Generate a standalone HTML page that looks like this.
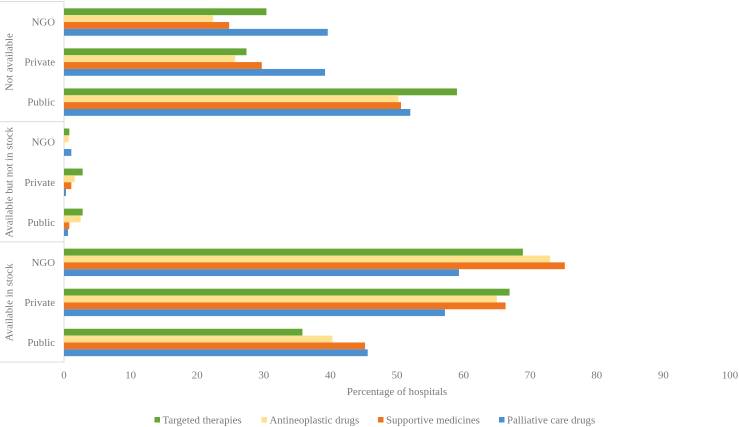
<!DOCTYPE html>
<html>
<head>
<meta charset="utf-8">
<style>
html,body{margin:0;padding:0;background:#fff;}
svg{display:block;filter:blur(0.3px);}
text{font-family:"Liberation Serif",serif;fill:#787878;font-size:10.8px;}
</style>
</head>
<body>
<svg id="chart" width="739" height="427" viewBox="0 0 739 427" xmlns="http://www.w3.org/2000/svg"></svg>
<script>
const statuses = ["Not available", "Available but not in stock", "Available in stock"];
const sectors = ["NGO", "Private", "Public"];
const seriesNames = ["Targeted therapies", "Antineoplastic drugs", "Supportive medicines", "Palliative care drugs"];
const seriesColors = ["#64a535", "#ffe08e", "#ee7420", "#4c90d0"];
const targetedTherapies = [30.4, 27.4, 59.0, 0.8, 2.8, 2.8, 68.9, 66.9, 35.8];
const antineoplasticDrugs = [22.4, 25.7, 50.2, 0.7, 1.6, 2.5, 73.0, 65.0, 40.3];
const supportiveMedicines = [24.8, 29.7, 50.6, 0, 1.1, 0.8, 75.2, 66.3, 45.2];
const palliativeCareDrugs = [39.6, 39.2, 52.0, 1.1, 0.3, 0.6, 59.3, 57.2, 45.6];
const xTicks = [0, 10, 20, 30, 40, 50, 60, 70, 80, 90, 100];
const xTitle = "Percentage of hospitals";

const NS = "http://www.w3.org/2000/svg";
const svg = document.getElementById("chart");
const allSeries = [targetedTherapies, antineoplasticDrugs, supportiveMedicines, palliativeCareDrugs];
const plotLeft = 64, plotRight = 730, plotTop = 2, plotBottom = 362.5;
const groupCount = statuses.length * sectors.length;
const groupStep = (plotBottom - plotTop) / groupCount;
const barHeight = 6.85;

function xScale(v) { return plotLeft + (plotRight - plotLeft) * v / 100; }
function groupCenter(i) { return plotTop + groupStep * (i + 0.5); }
function make(tag, attrs, txt) {
  const el = document.createElementNS(NS, tag);
  for (const k in attrs) el.setAttribute(k, attrs[k]);
  if (txt !== undefined) el.textContent = txt;
  svg.appendChild(el);
  return el;
}

// axis lines and multi-level separators
const axisLine = make("line", {x1: plotLeft, x2: plotLeft, y1: 1, y2: plotBottom, stroke: "#dcdcdc", "stroke-width": 1});


for (let s = 0; s <= statuses.length; s++) {
  const y = plotTop - 0.5 + s * groupStep * sectors.length;
  const sep = make("line", {x1: 0, x2: plotLeft, y1: y, y2: y, stroke: "#dcdcdc", "stroke-width": 1});
  
  
}

// bars
for (let g = 0; g < groupCount; g++) {
  allSeries.forEach(function (vals, si) {
    const y = groupCenter(g) - 2 * barHeight + si * barHeight;
    const bar = make("rect", {
      x: plotLeft, y: y.toFixed(2),
      width: Math.max(0, xScale(vals[g]) - plotLeft).toFixed(2),
      height: barHeight,
      fill: seriesColors[si]
    });
    
    
  });
}

// sector labels
for (let g = 0; g < groupCount; g++) {
  const label = make("text", {x: 55, y: (groupCenter(g) + 3.5).toFixed(1), "text-anchor": "end"}, sectors[g % sectors.length]);
  
  
}

// status labels
statuses.forEach(function (name, s) {
  const cy = plotTop + groupStep * sectors.length * (s + 0.5);
  const t = make("text", {"text-anchor": "middle", transform: "translate(12.5," + cy.toFixed(1) + ") rotate(-90)"}, name);
  
  
});

// x ticks
xTicks.forEach(function (v) {
  const t = make("text", {x: xScale(v), y: 378.5, "text-anchor": "middle"}, v);
  
  
});
const title = make("text", {x: 397, y: 395, "text-anchor": "middle"}, xTitle);



// legend
const legendX = [154.5, 261.5, 378, 499];
seriesNames.forEach(function (name, i) {
  const sw = make("rect", {x: legendX[i], y: 417, width: 5.5, height: 5.5, fill: seriesColors[i]});
  
  
  const t = make("text", {x: legendX[i] + 8, y: 423.3}, name);
  
  
});
</script>
</body>
</html>
